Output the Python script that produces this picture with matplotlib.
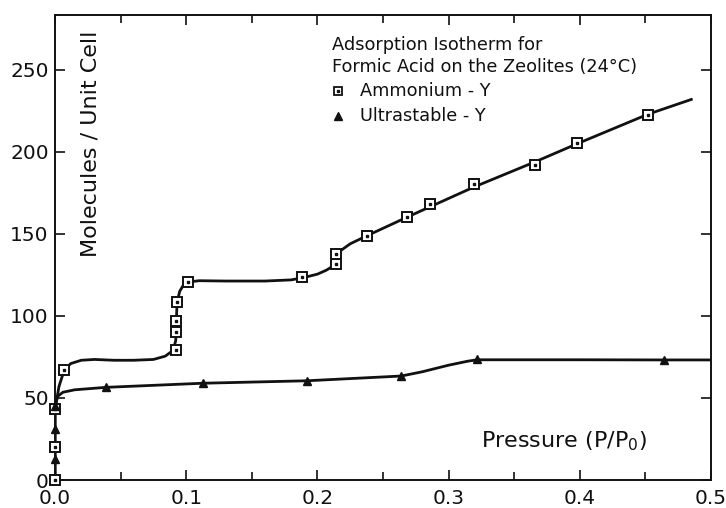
import matplotlib
matplotlib.use('Agg')
import matplotlib.pyplot as plt
from matplotlib.ticker import MultipleLocator

# measured points, Ammonium-Y (P/P0, molecules per unit cell)
nh4_p = [0.0, 0.0, 0.0, 0.007, 0.092, 0.092, 0.092, 0.093, 0.101, 0.188,
         0.2145, 0.2145, 0.238, 0.2685, 0.286, 0.319, 0.366, 0.398, 0.452]
nh4_n = [0, 20, 43, 67, 79, 90, 97, 108.5, 120.7, 124,
         131.5, 138, 149, 160.6, 168, 180.5, 192, 205.7, 222.6]

# hand-drawn isotherm through the Ammonium-Y points
nh4_curve_p = [0.0, 0.0, 0.003, 0.007, 0.012, 0.02, 0.03, 0.045, 0.06, 0.075,
               0.084, 0.09, 0.092, 0.0925, 0.093, 0.095, 0.098, 0.101, 0.11,
               0.13, 0.16, 0.18, 0.19, 0.2, 0.207, 0.212, 0.2145, 0.218,
               0.225, 0.238, 0.2685, 0.319, 0.366, 0.398, 0.452, 0.485]
nh4_curve_n = [0, 43, 57, 67, 71, 73, 73.5, 73, 73, 73.5,
               75.5, 79, 85, 97, 108, 115, 119, 120.7, 121.5,
               121.3, 121.3, 122, 123.5, 125.5, 128, 130.5, 134, 140,
               144, 149, 160.3, 178.5, 194, 205, 223, 232]

# measured points, Ultrastable-Y
usy_p = [0.0, 0.0, 0.0, 0.039, 0.1127, 0.192, 0.264, 0.322, 0.464]
usy_n = [12.8, 31, 45, 56.5, 59, 60.5, 63.4, 73.6, 73.2]

usy_curve_p = [0.0, 0.0, 0.002, 0.006, 0.015, 0.039, 0.1127, 0.192, 0.264,
               0.28, 0.3, 0.315, 0.322, 0.4, 0.464, 0.5]
usy_curve_n = [0, 45, 51, 53.5, 55, 56.5, 59, 60.5, 63.4,
               66, 70, 72.5, 73.3, 73.3, 73.2, 73.2]

plt.rcParams['font.family'] = 'DejaVu Sans'

fig = plt.figure(figsize=(7.26, 5.08), dpi=100)
ax = fig.add_axes([0.0758, 0.0551, 0.9035, 0.9154])

ink = '#111111'
ax.plot(nh4_curve_p, nh4_curve_n, color=ink, lw=2.0, zorder=2)
ax.plot(usy_curve_p, usy_curve_n, color=ink, lw=2.0, zorder=2)

# points on the y axis sit on the spine, so don't clip them
ax.plot(nh4_p, nh4_n, ls='none', marker='s', ms=6.5, mfc='white',
        mec=ink, mew=1.4, zorder=3, clip_on=False)
ax.plot(nh4_p, nh4_n, ls='none', marker='s', ms=1.6, mfc=ink,
        mec=ink, zorder=4, clip_on=False)
ax.plot(usy_p, usy_n, ls='none', marker='^', ms=6, mfc=ink,
        mec=ink, zorder=3, clip_on=False)

ax.set_xlim(0, 0.5)
ax.set_ylim(0, 283.5)
ax.xaxis.set_major_locator(MultipleLocator(0.1))
ax.xaxis.set_minor_locator(MultipleLocator(0.05))
ax.yaxis.set_major_locator(MultipleLocator(50))
ax.xaxis.set_major_formatter(plt.FuncFormatter(lambda v, _: f'{v:.1f}'))

ax.tick_params(which='both', direction='in', top=True, right=True,
               labelsize=14.5, colors=ink, width=1.2)
ax.tick_params(which='major', length=7)
ax.tick_params(which='minor', length=6)
ax.tick_params(axis='x', pad=6.5)
ax.tick_params(axis='y', pad=4.5)
for sp in ax.spines.values():
    sp.set_linewidth(1.4)
    sp.set_color(ink)

ax.text(0.027, 205, 'Molecules / Unit Cell', rotation=90, fontsize=16,
        ha='center', va='center', color=ink)
ax.text(0.65, 0.084, 'Pressure (P/P$_0$)', transform=ax.transAxes,
        fontsize=16, ha='left', va='center', color=ink)

# legend block
lx, mx, tx = 0.2115, 0.2155, 0.2325
ax.text(lx, 265, 'Adsorption Isotherm for', fontsize=12.8, color=ink,
        va='center')
ax.text(lx, 251.5, 'Formic Acid on the Zeolites (24°C)', fontsize=12.8,
        color=ink, va='center')
ax.plot([mx], [237], ls='none', marker='s', ms=5.5, mfc='white',
        mec=ink, mew=1.3)
ax.plot([mx], [237], ls='none', marker='s', ms=1.5, mfc=ink, mec=ink)
ax.text(tx, 237, 'Ammonium - Y', fontsize=12.8, color=ink, va='center')
ax.plot([mx], [222], ls='none', marker='^', ms=5.5, mfc=ink, mec=ink)
ax.text(tx, 222, 'Ultrastable - Y', fontsize=12.8, color=ink,
        va='center')

fig.savefig('out.png', dpi=100)
